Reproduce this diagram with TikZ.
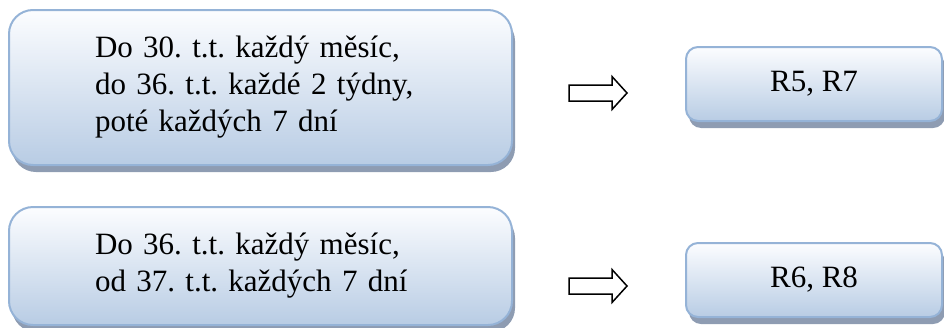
\documentclass[tikz,border=0pt]{standalone}
\usepackage{fontspec}
\setmainfont{Liberation Serif}
\frenchspacing
\usetikzlibrary{shadows}
\definecolor{boxborder}{RGB}{149,179,215}
\definecolor{boxtop}{RGB}{252,253,255}
\definecolor{boxbottom}{RGB}{184,204,228}
\definecolor{boxshadow}{RGB}{142,156,178}
\tikzset{
  roundbox/.style={draw=boxborder, line width=2pt, top color=boxtop, bottom color=boxbottom,
    font=\fontsize{31}{37}\selectfont\frenchspacing, text=black,
    drop shadow={shadow xshift=3pt, shadow yshift=-7pt, fill=boxshadow, opacity=1}},
  bigbox/.style={roundbox, rounded corners=24pt, text width=331pt, align=left, inner xsep=86pt, inner ysep=0pt, minimum height=#1},
  smallbox/.style={roundbox, rounded corners=12pt, minimum width=256pt, minimum height=74pt, inner sep=0pt, align=center},
  blockarrow/.style={draw=black, line width=1.5pt, fill=white, line join=miter}
}
\begin{document}
\begin{tikzpicture}[x=1pt,y=-1pt]
\useasboundingbox (0,0) rectangle (944,327);
\clip (0,0) rectangle (944,327);
\node[bigbox=155pt] (b1) at (260.5,87.5) {Do 30. t.t. každý měsíc,\\do 36. t.t. každé 2 týdny,\\poté každých 7 dní};
\node[bigbox=118pt] (b2) at (260.5,266) {Do 36. t.t. každý měsíc,\\od 37. t.t. každých 7 dní};
\node[smallbox] (r1) at (814,84) {R5, R7};
\node[smallbox] (r2) at (814,280) {R6, R8};
\coordinate (a1) at (598,93);
\coordinate (a2) at (598,286);
\foreach \a in {a1,a2}{
  \draw[blockarrow] (\a) ++(-29,-8) -- ++(43,0) -- ++(0,-8.5) -- ++(15,16.5) -- ++(-15,16.5) -- ++(0,-8.5) -- ++(-43,0) -- cycle;
}
\end{tikzpicture}
\end{document}
